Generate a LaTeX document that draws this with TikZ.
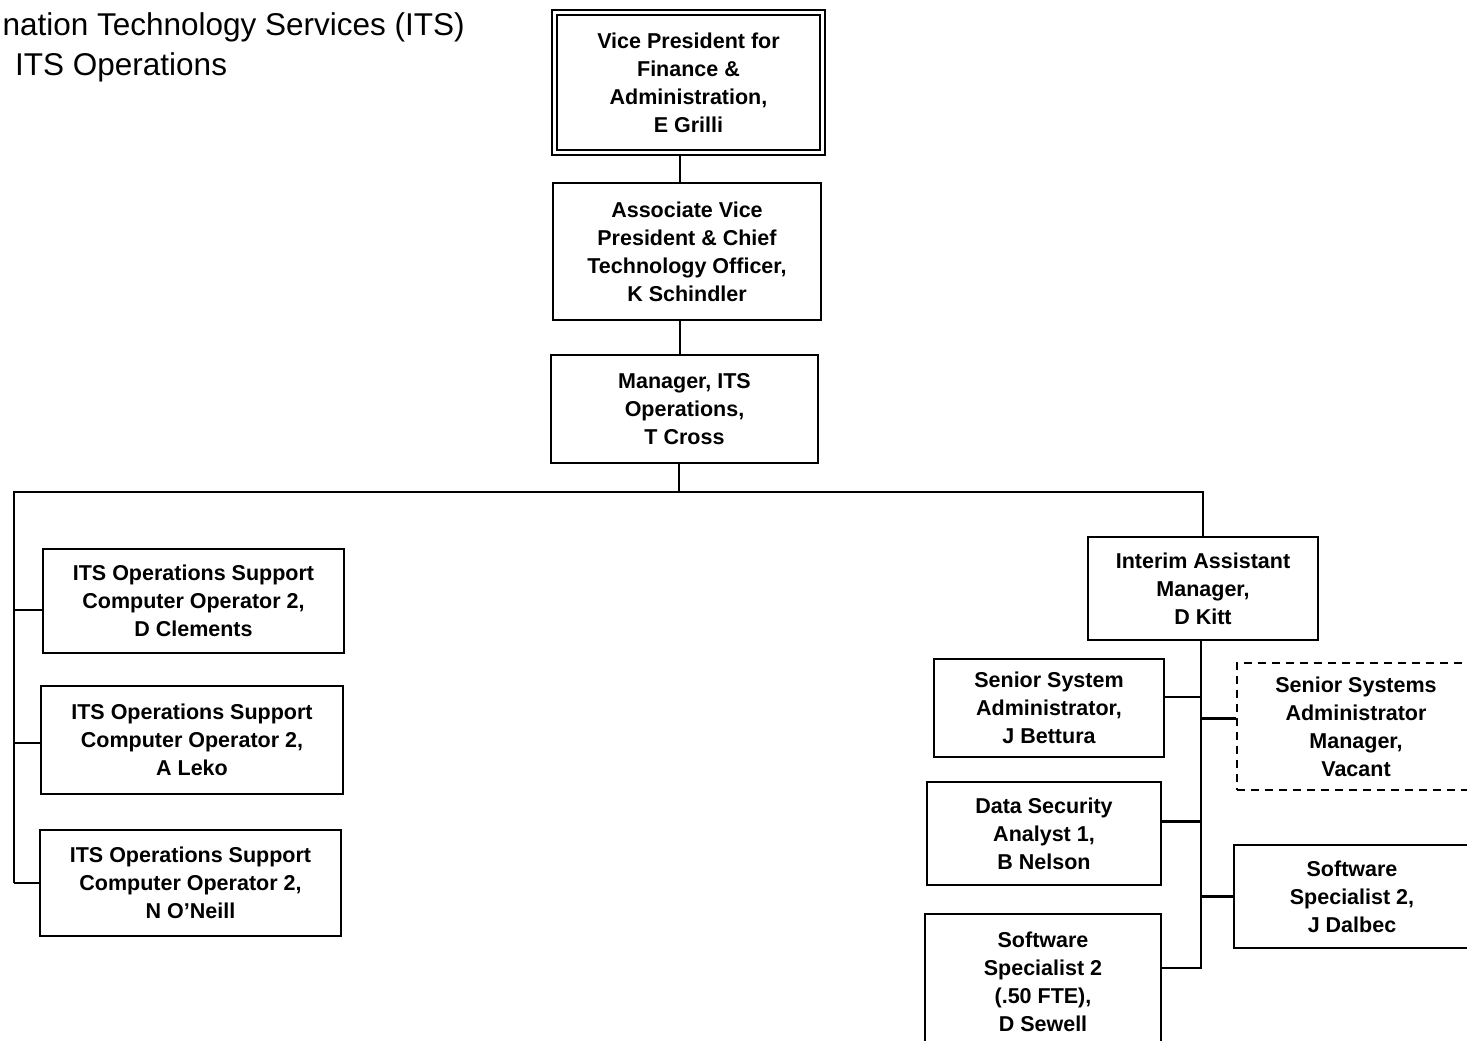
\documentclass[tikz,border=0pt]{standalone}
\usepackage{fontspec}
\setmainfont{Liberation Sans}
\begin{document}
\begin{tikzpicture}[x=1pt,y=-1pt,
  box/.style={draw, line width=2.6pt, align=center, inner sep=0pt,
    font=\bfseries\fontsize{21.5}{28}\selectfont},
  dbox/.style={box, line width=2pt, double, double distance=2.8pt},
  vbox/.style={box, line width=2.3pt, dash pattern=on 8pt off 6pt},
  conn/.style={line width=2.6pt},
  title/.style={font=\fontsize{31.5}{38}\selectfont, inner sep=0pt}]
\path[use as bounding box] (0,0) rectangle (1467,1041);
\clip (0,0) rectangle (1467,1041);

\node[title, anchor=base east] (t1) at (465,36) {nation Technology Services (ITS)};
\node[title, anchor=base west] (t2) at (15,75) {ITS Operations};

\node[dbox, minimum width=268, minimum height=140] (vp) at (688.5,82.5)
  {Vice President for\\Finance \&\\Administration,\\E Grilli};
\node[box, minimum width=268, minimum height=137] (avp) at (687,251.5)
  {Associate Vice\\President \& Chief\\Technology Officer,\\K Schindler};
\node[box, minimum width=267, minimum height=108] (mgr) at (684.5,409)
  {Manager, ITS\\Operations,\\T Cross};

\node[box, minimum width=301, minimum height=104] (l1) at (193.5,601)
  {ITS Operations Support\\Computer Operator 2,\\D Clements};
\node[box, minimum width=302, minimum height=108] (l2) at (192,740)
  {ITS Operations Support\\Computer Operator 2,\\A Leko};
\node[box, minimum width=301, minimum height=106] (l3) at (190.5,883)
  {ITS Operations Support\\Computer Operator 2,\\N O'Neill};

\node[box, minimum width=230, minimum height=103] (im) at (1203,588.5)
  {Interim Assistant\\Manager,\\D Kitt};
\node[box, minimum width=230, minimum height=98] (ssa) at (1049,708)
  {Senior System\\Administrator,\\J Bettura};
\node[vbox, minimum width=238, minimum height=127] (ssam) at (1356,726.5)
  {Senior Systems\\Administrator\\Manager,\\Vacant};
\node[box, minimum width=234, minimum height=103] (ds) at (1044,833.5)
  {Data Security\\Analyst 1,\\B Nelson};
\node[box, minimum width=236, minimum height=103] (jd) at (1352,896.5)
  {Software\\Specialist 2,\\J Dalbec};
\node[box, minimum width=236, minimum height=136] (sw) at (1043,982)
  {Software\\Specialist 2\\(.50 FTE),\\D Sewell};

\coordinate (cx) at (680,0);
\coordinate (busL) at (14,492);
\coordinate (busM) at (679,492);
\coordinate (busR) at (1203,492);
\coordinate (vb) at (1201,0);

\draw[conn] (vp.south -| cx) -- (avp.north -| cx);
\draw[conn] (avp.south -| cx) -- (mgr.north -| cx);
\draw[conn] (mgr.south -| busM) -- (busM);
\draw[conn] (l3.west -| busL) -- (busL) -- (busR) -- (im.north);
\draw[conn] ([yshift=-9pt]l1.west -| busL) -- ([yshift=-9pt]l1.west);
\draw[conn] ([yshift=-3pt]l2.west -| busL) -- ([yshift=-3pt]l2.west);
\draw[conn] (l3.west -| busL) -- (l3.west);

\draw[conn] (im.south -| vb) -- ([yshift=14pt]sw.east -| vb) -- ([yshift=14pt]sw.east);
\draw[conn] ([yshift=11pt]ssa.east) -- ([yshift=11pt]ssa.east -| vb);
\draw[conn] ([yshift=8pt]ssam.west -| vb) -- ([yshift=8pt]ssam.west);
\draw[conn] ([yshift=12pt]ds.east) -- ([yshift=12pt]ds.east -| vb);
\draw[conn] (jd.west -| vb) -- (jd.west);
\end{tikzpicture}
\end{document}
